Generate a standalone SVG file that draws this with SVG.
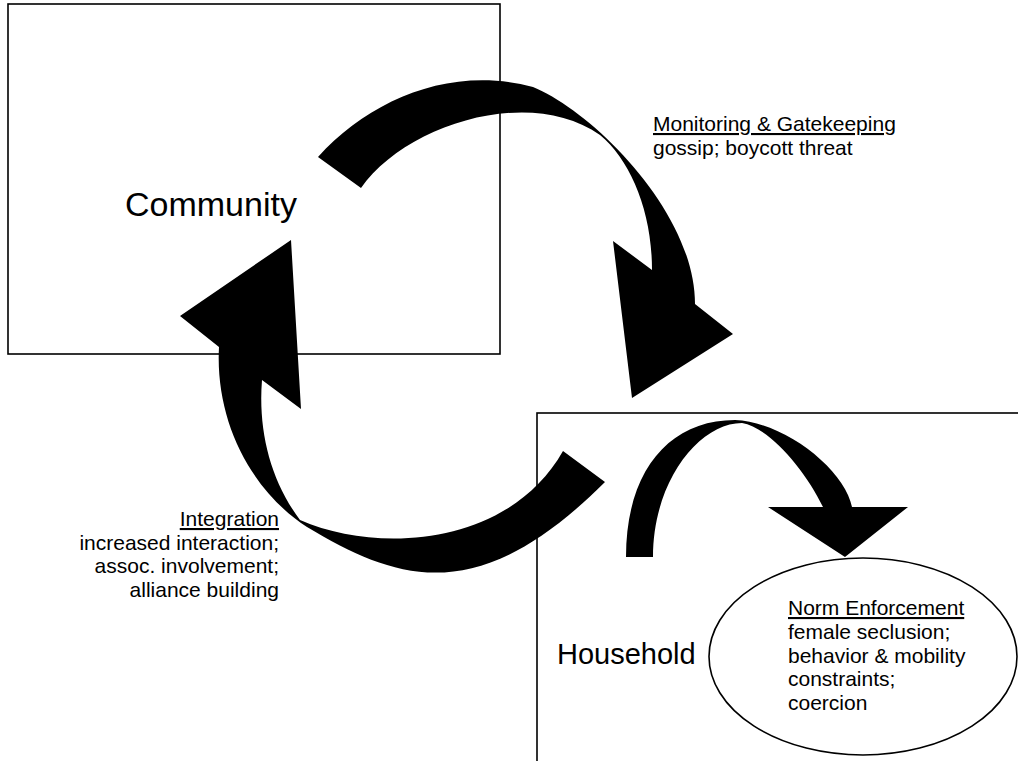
<svg xmlns="http://www.w3.org/2000/svg" width="1018" height="761" viewBox="0 0 1018 761">
<style>
.box{fill:none;stroke:#000;stroke-width:1.6}
.ell{fill:#fff;stroke:#000;stroke-width:1.6}
.arrow{fill:#000;stroke:none}
.big{font-family:"Liberation Sans",Arial,sans-serif;fill:#000}
.lbl{font-family:"Liberation Sans",Arial,sans-serif;font-size:21px;fill:#000}
.u{text-decoration:underline}
</style>
<rect width="1018" height="761" fill="#fff"/>
<g id="community">
<rect class="box" x="8" y="4" width="492" height="350"/>
<text class="big" x="125" y="216" font-size="34">Community</text>
</g>
<g id="household">
<rect class="box" x="537" y="413" width="520" height="400"/>
<text class="big" x="557" y="664" font-size="29">Household</text>
</g>
<g id="norm-enforcement">
<ellipse class="ell" cx="863" cy="656.5" rx="154" ry="98.5"/>
<text class="lbl" x="788" y="615"><tspan class="u">Norm Enforcement</tspan><tspan x="788" dy="24">female seclusion;</tspan><tspan x="788" dy="23.5">behavior &amp; mobility</tspan><tspan x="788" dy="23.5">constraints;</tspan><tspan x="788" dy="23.5">coercion</tspan></text>
</g>
<g id="monitoring-label">
<text class="lbl" x="653" y="131"><tspan class="u">Monitoring &amp; Gatekeeping</tspan><tspan x="653" dy="24">gossip; boycott threat</tspan></text>
</g>
<g id="integration-label">
<text class="lbl" x="279" y="526" text-anchor="end"><tspan class="u">Integration</tspan><tspan x="279" dy="23.5">increased interaction;</tspan><tspan x="279" dy="23.5">assoc. involvement;</tspan><tspan x="279" dy="23.5">alliance building</tspan></text>
</g>
<g id="connectors">
<path id="arrow-monitoring" class="arrow" d="M318,157 C370,100 450,65 533,87 C590,110 695,210 695,304 L733,334 L632,398 L613,241 L652,270 C652,210 630,160 600,135 C530,85 405,125 361,188 Z"/>
<path id="arrow-integration" class="arrow" d="M605,482 C480,607 400,583 307,527 C250,490 215,420 219,347 L180,316 L291,240 L301,409 L262,380 C258,430 270,480 300,520 C380,555 510,545 563,451 Z"/>
<path id="arrow-enforcement" class="arrow" d="M626,557 C626,470 670,420 735,420 C785,422 845,470 852,507 L908,507 L845,557 L768,507 L823,507 C805,470 770,428 742,423 C700,423 653,480 653,557 Z"/>
</g>
</svg>
